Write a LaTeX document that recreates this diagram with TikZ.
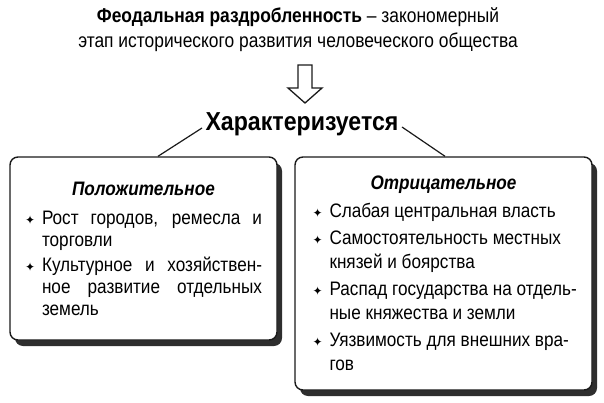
\documentclass[tikz,border=0pt]{standalone}
\usepackage{fontspec}
\setmainfont{Liberation Sans}[FakeStretch=0.88]
\newfontfamily\titlefont{Liberation Sans}[FakeStretch=0.87]
\newfontfamily\charfont{Liberation Sans}[FakeStretch=0.89]
\newfontfamily\symfont{DejaVu Sans}
\usetikzlibrary{shadows,calc}
\definecolor{ink}{HTML}{1A1A1A}
\definecolor{shade}{HTML}{2E2E2E}
\newcommand{\plitem}[1]{\hangindent=17pt\hangafter=1\noindent\makebox[17pt][l]{\symfont\fontsize{12}{12}\selectfont ✦}#1\par}

\begin{document}
\begin{tikzpicture}[x=1pt,y=1pt,
  box/.style={draw=ink, line width=1.4pt, rounded corners=8pt, fill=white,
    drop shadow={shadow xshift=5pt, shadow yshift=-6pt, fill=shade, opacity=1},
    inner xsep=15pt},
  link/.style={draw=ink, line width=1.2pt}]
  \useasboundingbox (0,0) rectangle (604,402);
  \node[align=center, font=\titlefont\fontsize{20}{25}\selectfont] (title) at (298,372.5)
    {\textbf{Феодальная раздробленность} – закономерный\\этап исторического развития человеческого общества};
  \node[font=\charfont\fontsize{26}{30}\selectfont\bfseries] (char) at (302,278) {Характеризуется};
  \node[box, align=justify, text width=237pt, minimum width=267pt, minimum height=183pt,
    font=\fontsize{19.5}{22}\selectfont] (pos) at (143.5,153.5) {%
    \setlength{\parskip}{2.5pt}%
    {\centering\bfseries\itshape Положительное\par}\vspace{5pt}
    \plitem{Рост городов, ремесла и\linebreak торговли}
    \plitem{Культурное и хозяйствен-\linebreak ное развитие отдельных\linebreak земель}
    \vspace{6pt}};
  \node[box, align=justify, text width=262pt, inner xsep=17.5pt, minimum width=297pt, minimum height=233pt,
    font=\fontsize{19.5}{23.5}\selectfont] (neg) at (443.5,128.5) {%
    \setlength{\parskip}{4pt}%
    {\centering\bfseries\itshape Отрицательное\par}
    \plitem{\mbox{Слабая центральная власть}\hfill}
    \plitem{\mbox{Самостоятельность местных}\hfill\linebreak\mbox{князей и боярства}\hfill}
    \plitem{\mbox{Распад государства на отдель-}\hfill\linebreak\mbox{ные княжества и земли}\hfill}
    \plitem{\mbox{Уязвимость для внешних вра-}\hfill\linebreak\mbox{гов}\hfill}};
  % hollow arrow
  \coordinate (atop) at (305,337);
  \draw[ink, line width=1.3pt] (atop) ++(-7,0) -- ++(0,-23) -- ++(-10,0) -- ++(17,-15)
    -- ++(17,15) -- ++(-10,0) -- ++(0,23) -- cycle;
  \draw[link] ([yshift=-4pt]char.west) -- ([xshift=14.5pt]pos.north);
  \draw[link] ([yshift=-3pt]char.east) -- ([xshift=1.5pt]neg.north);
\end{tikzpicture}
\end{document}
